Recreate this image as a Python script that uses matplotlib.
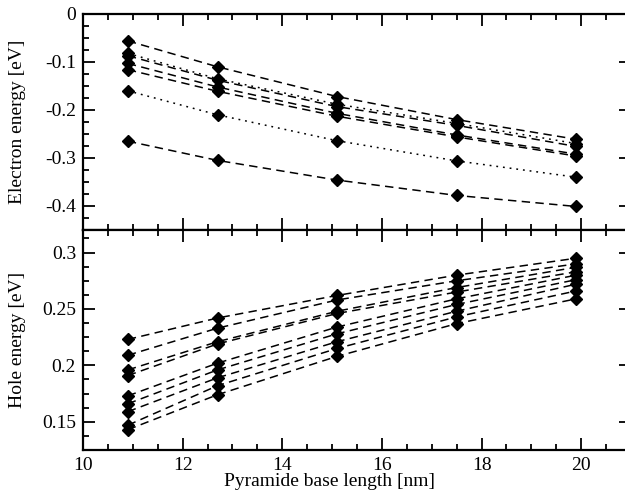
import matplotlib
matplotlib.use('Agg')
import matplotlib.pyplot as plt
from matplotlib.ticker import MultipleLocator

# pyramid base lengths [nm]
base_length = [10.9, 12.7, 15.1, 17.5, 19.9]

# electron energies [eV], top panel
electron_a = [-0.056, -0.110, -0.172, -0.220, -0.261]
electron_b1 = [-0.082, -0.135, -0.188, -0.228, -0.270]
electron_b2 = [-0.087, -0.138, -0.193, -0.232, -0.276]
electron_c1 = [-0.103, -0.152, -0.207, -0.252, -0.292]
electron_c2 = [-0.116, -0.161, -0.213, -0.256, -0.296]
electron_d = [-0.160, -0.210, -0.264, -0.306, -0.340]
electron_e = [-0.265, -0.305, -0.346, -0.378, -0.401]
electron_series = [electron_a, electron_b1, electron_b2, electron_c1,
                   electron_c2, electron_d, electron_e]
electron_styles = ['dashed', 'dotted', 'dashed', 'dashed', 'dashed', 'dotted', 'dashed']

# hole energies [eV], bottom panel
hole_1 = [0.223, 0.242, 0.262, 0.280, 0.295]
hole_2 = [0.209, 0.233, 0.258, 0.275, 0.290]
hole_3 = [0.196, 0.221, 0.248, 0.269, 0.287]
hole_4 = [0.191, 0.219, 0.246, 0.265, 0.283]
hole_5 = [0.173, 0.202, 0.234, 0.259, 0.280]
hole_6 = [0.166, 0.196, 0.228, 0.254, 0.276]
hole_7 = [0.159, 0.189, 0.221, 0.248, 0.272]
hole_8 = [0.147, 0.182, 0.215, 0.243, 0.266]
hole_9 = [0.143, 0.174, 0.208, 0.237, 0.259]
hole_series = [hole_1, hole_2, hole_3, hole_4, hole_5, hole_6, hole_7, hole_8, hole_9]

plt.rcParams['font.family'] = ['Liberation Serif', 'DejaVu Serif']
plt.rcParams['font.size'] = 14
plt.rcParams['axes.unicode_minus'] = False

dash = (0, (5.5, 3.5))
dots = (0, (1.2, 3.2))


def style_axes(ax):
    for s in ax.spines.values():
        s.set_linewidth(1.6)
    ax.xaxis.set_major_locator(MultipleLocator(2))
    ax.xaxis.set_minor_locator(MultipleLocator(0.5))
    ax.tick_params(which='both', direction='in', top=True, right=True,
                   width=1.3, labelsize=14)
    ax.tick_params(which='major', length=8.5, pad=5)
    ax.tick_params(which='minor', length=4.5)
    ax.set_xlim(10, 21)


fig = plt.figure(figsize=(6.25, 4.96), dpi=100)
ax1 = fig.add_axes([83 / 625, 1 - 230 / 496, 548 / 625, 216 / 496])
ax2 = fig.add_axes([83 / 625, 1 - 450 / 496, 548 / 625, 220 / 496])

for vals, ls in zip(electron_series, electron_styles):
    ax1.plot(base_length, vals, color='black', lw=1.1,
             linestyle=dash if ls == 'dashed' else dots,
             marker='D', markersize=6.5)
style_axes(ax1)
ax1.set_ylim(-0.45, 0)
ax1.yaxis.set_major_locator(MultipleLocator(0.1))
ax1.yaxis.set_minor_locator(MultipleLocator(0.025))
ax1.set_yticks([0, -0.1, -0.2, -0.3, -0.4])
ax1.set_yticklabels(['0', '-0.1', '-0.2', '-0.3', '-0.4'])
ax1.tick_params(labelbottom=False)

for vals in hole_series:
    ax2.plot(base_length, vals, color='black', lw=1.1, linestyle=dash,
             marker='D', markersize=6.5)
style_axes(ax2)
ax2.set_ylim(0.125, 0.32)
ax2.set_yticks([0.15, 0.2, 0.25, 0.3])
ax2.set_yticklabels(['0.15', '0.2', '0.25', '0.3'])
ax2.yaxis.set_minor_locator(MultipleLocator(0.0125))

fig.text(18 / 625, 1 - 122 / 496, 'Electron energy [eV]', rotation=90,
         ha='center', va='center', fontsize=14)
fig.text(18 / 625, 1 - 340 / 496, 'Hole energy [eV]', rotation=90,
         ha='center', va='center', fontsize=14)
fig.text(330 / 625, 1 - 482 / 496, 'Pyramide base length [nm]',
         ha='center', va='center', fontsize=14)

plt.savefig('out.png', dpi=100)
